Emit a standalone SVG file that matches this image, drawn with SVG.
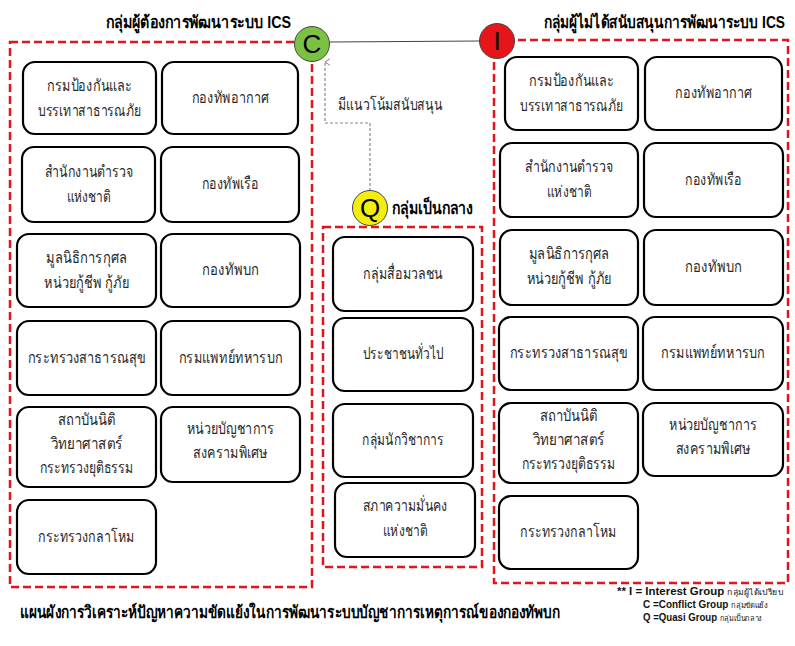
<svg xmlns="http://www.w3.org/2000/svg" width="795" height="646" viewBox="0 0 795 646">
<style>
.grp{fill:none;stroke:#e0161b;stroke-width:2.5;stroke-dasharray:8 4}
.box{fill:#fff;stroke:#000;stroke-width:2.2}
.t{font-family:"Liberation Sans","DejaVu Sans",sans-serif;font-size:16px;fill:#2a2a2a;text-anchor:middle}
.h{font-family:"Liberation Sans","DejaVu Sans",sans-serif;font-size:17px;font-weight:bold;fill:#000}
.lg{font-family:"Liberation Sans","DejaVu Sans",sans-serif;font-size:10.5px;font-weight:bold;fill:#111}
.lgs{font-size:8px;font-weight:normal}
.circ{stroke:#444;stroke-width:1}
.ct{font-family:"Liberation Sans","DejaVu Sans",sans-serif;font-size:26px;fill:#000;text-anchor:middle}
</style>
<defs>
<marker id="open" viewBox="0 0 10 10" refX="5" refY="1" markerWidth="8" markerHeight="8" orient="auto-start-reverse" markerUnits="userSpaceOnUse">
<path d="M1,7 L5,1 L9,7" fill="none" stroke="#777" stroke-width="1.2"/>
</marker>
</defs>
<rect width="795" height="646" fill="#fff"/>

<g id="groups">
<rect class="grp" x="10" y="42" width="302" height="545"/>
<rect class="grp" x="323" y="227" width="159" height="340"/>
<rect class="grp" x="494" y="40" width="294" height="543"/>
</g>

<g id="connectors">
<line x1="330" y1="42" x2="480" y2="41" stroke="#444" stroke-width="1.2"/>
<path d="M370,191 L370,123 L325,123 L325,62" fill="none" stroke="#888" stroke-width="1.2" stroke-dasharray="3 2" marker-end="url(#open)"/>
<text x="338" y="110" class="t" style="text-anchor:start" textLength="104" lengthAdjust="spacingAndGlyphs">มีแนวโน้มสนับสนุน</text>
</g>

<g id="titles">
<text x="106" y="28" class="h" textLength="185" lengthAdjust="spacingAndGlyphs">กลุ่มผู้ต้องการพัฒนาระบบ ICS</text>
<text x="544" y="28" class="h" textLength="241" lengthAdjust="spacingAndGlyphs">กลุ่มผู้ไม่ได้สนับสนุนการพัฒนาระบบ ICS</text>
<text x="392" y="214" class="h" textLength="81" lengthAdjust="spacingAndGlyphs">กลุ่มเป็นกลาง</text>
<text x="20" y="618" class="h" style="font-size:17px" textLength="540" lengthAdjust="spacingAndGlyphs">แผนผังการวิเคราะห์ปัญหาความขัดแย้งในการพัฒนาระบบบัญชาการเหตุการณ์ของกองทัพบก</text>
</g>

<g id="legend">
<text x="617" y="595" class="lg" textLength="166" lengthAdjust="spacingAndGlyphs">** I = Interest Group <tspan class="lgs">กลุ่มผู้ได้เปรียบ</tspan></text>
<text x="643" y="608" class="lg" textLength="125" lengthAdjust="spacingAndGlyphs">C =Conflict Group <tspan class="lgs">กลุ่มขัดแย้ง</tspan></text>
<text x="643" y="621" class="lg" textLength="119" lengthAdjust="spacingAndGlyphs">Q =Quasi Group <tspan class="lgs">กลุ่มเป็นกลาง</tspan></text>
</g>

<g id="nodeC"><circle class="circ" cx="312" cy="44" r="17.5" fill="#7cc242"/><text x="312" y="53" class="ct">C</text></g>
<g id="nodeI"><circle class="circ" cx="497" cy="41" r="17.5" fill="#e8141c"/><text x="497" y="50" class="ct">I</text></g>
<g id="nodeQ"><circle class="circ" cx="370" cy="208" r="17.5" fill="#f3ee0c"/><text x="370" y="217" class="ct">Q</text></g>

<!-- left column -->
<g id="L1"><rect class="box" x="23" y="62" width="133" height="72" rx="12"/><text class="t" x="89.5" y="90.5" textLength="85" lengthAdjust="spacingAndGlyphs">กรมป้องกันและ</text><text class="t" x="89.5" y="115.5" textLength="103" lengthAdjust="spacingAndGlyphs">บรรเทาสาธารณภัย</text></g>
<g id="L2"><rect class="box" x="162" y="62" width="136" height="72" rx="12"/><text class="t" x="230" y="103" textLength="77" lengthAdjust="spacingAndGlyphs">กองทัพอากาศ</text></g>
<g id="L3"><rect class="box" x="22" y="147" width="133" height="75" rx="12"/><text class="t" x="88.5" y="177" textLength="88" lengthAdjust="spacingAndGlyphs">สำนักงานตำรวจ</text><text class="t" x="88.5" y="202" textLength="44" lengthAdjust="spacingAndGlyphs">แห่งชาติ</text></g>
<g id="L4"><rect class="box" x="161" y="147" width="138" height="75" rx="12"/><text class="t" x="230" y="189" textLength="57" lengthAdjust="spacingAndGlyphs">กองทัพเรือ</text></g>
<g id="L5"><rect class="box" x="17" y="234" width="139" height="73" rx="12"/><text class="t" x="86.5" y="263" textLength="81" lengthAdjust="spacingAndGlyphs">มูลนิธิการกุศล</text><text class="t" x="86.5" y="288" textLength="85" lengthAdjust="spacingAndGlyphs">หน่วยกู้ชีพ กู้ภัย</text></g>
<g id="L6"><rect class="box" x="161" y="234" width="139" height="73" rx="12"/><text class="t" x="230.5" y="275" textLength="57" lengthAdjust="spacingAndGlyphs">กองทัพบก</text></g>
<g id="L7"><rect class="box" x="17" y="321" width="139" height="74" rx="12"/><text class="t" x="86.5" y="363" textLength="118" lengthAdjust="spacingAndGlyphs">กระทรวงสาธารณสุข</text></g>
<g id="L8"><rect class="box" x="161" y="321" width="139" height="74" rx="12"/><text class="t" x="230.5" y="363" textLength="104" lengthAdjust="spacingAndGlyphs">กรมแพทย์ทหารบก</text></g>
<g id="L9"><rect class="box" x="17" y="407" width="139" height="80" rx="12"/><text class="t" x="86.5" y="425" textLength="58" lengthAdjust="spacingAndGlyphs">สถาบันนิติ</text><text class="t" x="86.5" y="449" textLength="72" lengthAdjust="spacingAndGlyphs">วิทยาศาสตร์</text><text class="t" x="86.5" y="473" textLength="94" lengthAdjust="spacingAndGlyphs">กระทรวงยุติธรรม</text></g>
<g id="L10"><rect class="box" x="161" y="407" width="139" height="75" rx="12"/><text class="t" x="230.5" y="434" textLength="88" lengthAdjust="spacingAndGlyphs">หน่วยบัญชาการ</text><text class="t" x="230.5" y="458" textLength="75" lengthAdjust="spacingAndGlyphs">สงครามพิเศษ</text></g>
<g id="L11"><rect class="box" x="17" y="500" width="139" height="74" rx="12"/><text class="t" x="86.5" y="542" textLength="97" lengthAdjust="spacingAndGlyphs">กระทรวงกลาโหม</text></g>

<!-- middle column -->
<g id="M1"><rect class="box" x="333" y="237" width="140" height="74" rx="12"/><text class="t" x="403" y="279" textLength="80" lengthAdjust="spacingAndGlyphs">กลุ่มสื่อมวลชน</text></g>
<g id="M2"><rect class="box" x="333" y="318" width="140" height="73" rx="12"/><text class="t" x="403" y="359" textLength="80" lengthAdjust="spacingAndGlyphs">ประชาชนทั่วไป</text></g>
<g id="M3"><rect class="box" x="333" y="404" width="140" height="73" rx="12"/><text class="t" x="403" y="445" textLength="82" lengthAdjust="spacingAndGlyphs">กลุ่มนักวิชาการ</text></g>
<g id="M4"><rect class="box" x="335" y="483" width="140" height="74" rx="12"/><text class="t" x="405" y="511" textLength="85" lengthAdjust="spacingAndGlyphs">สภาความมั่นคง</text><text class="t" x="405" y="536" textLength="44" lengthAdjust="spacingAndGlyphs">แห่งชาติ</text></g>

<!-- right column -->
<g id="R1"><rect class="box" x="505" y="57" width="133" height="73" rx="12"/><text class="t" x="571.5" y="86" textLength="85" lengthAdjust="spacingAndGlyphs">กรมป้องกันและ</text><text class="t" x="571.5" y="111" textLength="103" lengthAdjust="spacingAndGlyphs">บรรเทาสาธารณภัย</text></g>
<g id="R2"><rect class="box" x="645" y="57" width="137" height="73" rx="12"/><text class="t" x="713.5" y="98" textLength="77" lengthAdjust="spacingAndGlyphs">กองทัพอากาศ</text></g>
<g id="R3"><rect class="box" x="500" y="143" width="138" height="74" rx="12"/><text class="t" x="569" y="172" textLength="88" lengthAdjust="spacingAndGlyphs">สำนักงานตำรวจ</text><text class="t" x="569" y="197" textLength="44" lengthAdjust="spacingAndGlyphs">แห่งชาติ</text></g>
<g id="R4"><rect class="box" x="644" y="143" width="139" height="74" rx="12"/><text class="t" x="713.5" y="185" textLength="57" lengthAdjust="spacingAndGlyphs">กองทัพเรือ</text></g>
<g id="R5"><rect class="box" x="500" y="230" width="138" height="75" rx="12"/><text class="t" x="569" y="259" textLength="81" lengthAdjust="spacingAndGlyphs">มูลนิธิการกุศล</text><text class="t" x="569" y="284" textLength="85" lengthAdjust="spacingAndGlyphs">หน่วยกู้ชีพ กู้ภัย</text></g>
<g id="R6"><rect class="box" x="644" y="230" width="139" height="75" rx="12"/><text class="t" x="713.5" y="272" textLength="57" lengthAdjust="spacingAndGlyphs">กองทัพบก</text></g>
<g id="R7"><rect class="box" x="499" y="317" width="139" height="73" rx="12"/><text class="t" x="568.5" y="358" textLength="118" lengthAdjust="spacingAndGlyphs">กระทรวงสาธารณสุข</text></g>
<g id="R8"><rect class="box" x="643" y="317" width="140" height="73" rx="12"/><text class="t" x="713" y="358" textLength="104" lengthAdjust="spacingAndGlyphs">กรมแพทย์ทหารบก</text></g>
<g id="R9"><rect class="box" x="499" y="403" width="139" height="80" rx="12"/><text class="t" x="568.5" y="421" textLength="58" lengthAdjust="spacingAndGlyphs">สถาบันนิติ</text><text class="t" x="568.5" y="445" textLength="72" lengthAdjust="spacingAndGlyphs">วิทยาศาสตร์</text><text class="t" x="568.5" y="469" textLength="94" lengthAdjust="spacingAndGlyphs">กระทรวงยุติธรรม</text></g>
<g id="R10"><rect class="box" x="643" y="403" width="140" height="73" rx="12"/><text class="t" x="713" y="430" textLength="88" lengthAdjust="spacingAndGlyphs">หน่วยบัญชาการ</text><text class="t" x="713" y="454" textLength="75" lengthAdjust="spacingAndGlyphs">สงครามพิเศษ</text></g>
<g id="R11"><rect class="box" x="499" y="496" width="139" height="73" rx="12"/><text class="t" x="568.5" y="537" textLength="97" lengthAdjust="spacingAndGlyphs">กระทรวงกลาโหม</text></g>
</svg>
